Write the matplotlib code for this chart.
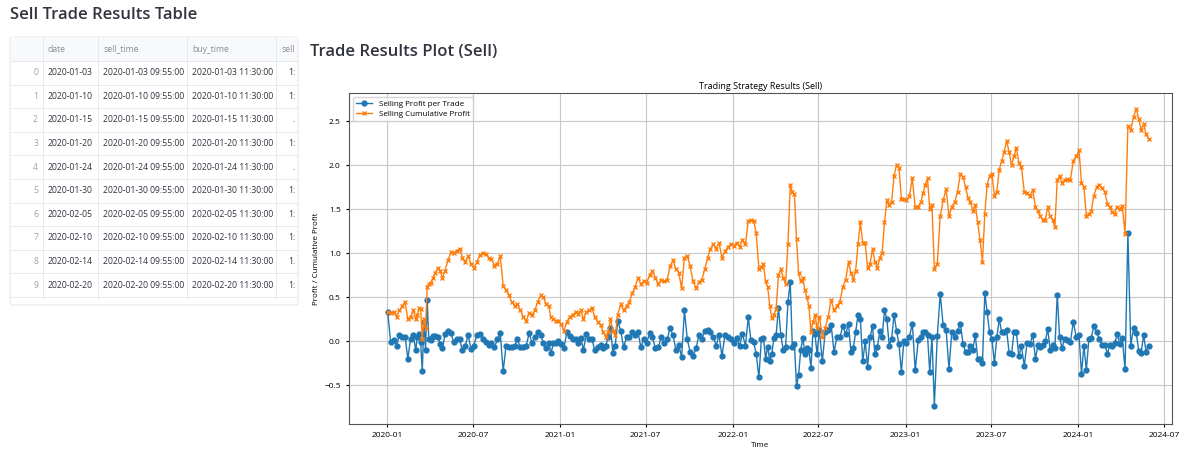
import numpy as np
import pandas as pd
import matplotlib
matplotlib.use("Agg")
import matplotlib.pyplot as plt
import matplotlib.patches as mpatches

# ---- data: cumulative profit per trade, grouped by month ----
months = pd.date_range("2020-01-01", "2024-05-01", freq="MS")
cum_by_month = [
    [0.33, 0.32, 0.33, 0.28, 0.35],
    [0.40, 0.45, 0.25, 0.28, 0.35],
    [0.25, 0.30, 0.38, 0.37, 0.03, 0.25, 0.15, 0.62, 0.65],
    [0.66, 0.72, 0.78, 0.83, 0.80, 0.72],
    [0.80, 0.92, 1.01, 1.00, 1.03],
    [1.05, 0.95, 0.90, 0.97, 0.88],
    [0.83, 0.90, 0.98, 1.00, 0.99],
    [0.95, 0.93, 0.86, 0.88, 0.97],
    [0.63, 0.58, 0.52, 0.45, 0.40],
    [0.42, 0.35, 0.28, 0.23, 0.32],
    [0.30, 0.35, 0.45, 0.52, 0.50],
    [0.42, 0.40, 0.27, 0.25, 0.23, 0.23],
    [0.20, 0.12, 0.22, 0.28, 0.30],
    [0.33, 0.31, 0.35, 0.25, 0.33],
    [0.35, 0.38, 0.28, 0.22, 0.18],
    [0.10, 0.05, 0.10, 0.25, 0.12, 0.07],
    [0.30, 0.42, 0.35, 0.40, 0.45],
    [0.55, 0.62, 0.72, 0.65, 0.68],
    [0.66, 0.75, 0.80, 0.72, 0.65],
    [0.70, 0.68, 0.70, 0.85, 0.92],
    [0.82, 0.78, 0.60, 0.95, 0.97],
    [0.85, 0.68, 0.60, 0.67, 0.70],
    [0.82, 0.95, 1.05, 1.10, 1.05],
    [1.12, 0.95, 1.02, 1.07, 1.10],
    [1.08, 1.12, 1.07, 1.15, 1.10],
    [1.37, 1.38, 1.37, 1.23, 0.82],
    [0.84, 0.88, 0.68, 0.62, 0.40, 0.26, 0.30],
    [0.37, 0.75, 0.82, 0.72, 0.65, 1.10],
    [1.77, 1.70, 1.67, 1.16, 0.78, 0.68, 0.72],
    [0.58, 0.50, 0.40, 0.10, 0.22, 0.30, 0.15],
    [0.28, 0.05, 0.15, 0.28, 0.47],
    [0.35, 0.40, 0.45, 0.62, 0.70],
    [0.90, 0.78, 0.70, 0.80, 1.10, 1.35],
    [1.12, 1.12, 0.83, 0.88, 1.05, 0.90],
    [0.83, 0.95, 1.00, 1.35, 1.60, 1.55],
    [1.58, 1.88, 2.00, 1.97, 1.62, 1.62],
    [1.60, 1.65, 1.85, 1.52, 1.53],
    [1.58, 1.68, 1.78, 1.85, 1.50, 1.55],
    [0.82, 0.88, 1.42, 1.60, 1.73],
    [1.42, 1.53, 1.58, 1.70, 1.90],
    [1.87, 1.75, 1.63, 1.58, 1.48, 1.55],
    [1.35, 1.15, 0.90, 1.45, 1.78, 1.88],
    [1.90, 1.65, 1.70, 1.95, 2.05, 2.15],
    [2.28, 2.15, 2.00, 2.10, 2.20, 2.03],
    [1.98, 1.70, 1.68, 1.65, 1.72],
    [1.52, 1.48, 1.42, 1.38, 1.38, 1.52],
    [1.42, 1.38, 1.30, 1.83, 1.88, 1.80],
    [1.83, 1.84, 1.83, 2.05, 2.10],
    [2.17, 1.80, 1.75, 1.42, 1.44, 1.48],
    [1.65, 1.75, 1.78, 1.74, 1.70],
    [1.56, 1.52, 1.47, 1.45, 1.53, 1.50],
    [1.54, 1.22, 2.45, 2.40, 2.55],
    [2.64, 2.53, 2.40, 2.47, 2.35, 2.30],
]

table_cols = ["date", "sell_time", "buy_time", "sell"]
table_dates = ["2020-01-03", "2020-01-10", "2020-01-15", "2020-01-20", "2020-01-24",
               "2020-01-30", "2020-02-05", "2020-02-10", "2020-02-14", "2020-02-20"]
sell_partial = ["1:", "1:", ".", "1:", ".", "1:", "1:", "1:", "1.", "1:"]

dates, cum = [], []
for m, vals in zip(months, cum_by_month):
    nd = (m + pd.offsets.MonthBegin(1) - m).days
    for i, v in enumerate(vals):
        dates.append(m + pd.Timedelta(days=(i + 0.3) * nd / len(vals)))
        cum.append(v)
cum = np.array(cum)
profit = np.diff(np.concatenate([[0.0], cum]))

plt.rcParams['font.family'] = ['Open Sans', 'DejaVu Sans']
W, H = 1200, 458
fig = plt.figure(figsize=(12, 4.58), dpi=100)

def fx(x): return x / W
def fy(y): return 1 - y / H

# headings
fig.text(fx(10), fy(15), "Sell Trade Results Table", fontsize=12, fontweight='semibold',
         color='#31333f', va='center', ha='left')
fig.text(fx(310), fy(52), "Trade Results Plot (Sell)", fontsize=12, fontweight='semibold',
         color='#31333f', va='center', ha='left')

# table
tx0, tx1, ty0, ty1 = 10, 298, 37, 305
box = mpatches.FancyBboxPatch((fx(tx0), fy(ty1)), fx(tx1 - tx0), (ty1 - ty0) / H,
                              boxstyle="round,pad=0,rounding_size=0.004",
                              transform=fig.transFigure, fc='white', ec='#e6e9ef', lw=0.8)
fig.patches.append(box)
hdr_h = 24
fig.patches.append(mpatches.Rectangle((fx(tx0 + 1), fy(ty0 + hdr_h)), fx(tx1 - tx0 - 2), hdr_h / H,
                                      transform=fig.transFigure, fc='#f8f9fb', ec='none'))
col_x = [10, 43, 98, 187, 276, 298]
row_h = 23.6
clip = mpatches.Rectangle((fx(tx0), fy(ty1 - 6)), fx(tx1 - tx0 - 2), (ty1 - ty0 - 6) / H,
                          transform=fig.transFigure, fc='none', ec='none')
fig.patches.append(clip)
for cx in col_x[1:5]:
    fig.add_artist(plt.Line2D([fx(cx), fx(cx)], [fy(ty0), fy(ty1 - 6)], transform=fig.transFigure,
                              color='#e6e9ef', lw=0.7))
for r in range(11):
    yy = ty0 + hdr_h + r * row_h
    if yy < ty1 - 4:
        fig.add_artist(plt.Line2D([fx(tx0), fx(tx1)], [fy(yy), fy(yy)], transform=fig.transFigure,
                                  color='#e6e9ef', lw=0.7))
for j, c in enumerate(table_cols):
    t = fig.text(fx(col_x[j + 1] + 5), fy(ty0 + hdr_h / 2), c, fontsize=6.2, color='#8a8d97',
                 va='center', ha='left')
    t.set_clip_path(clip)
for r, d in enumerate(table_dates):
    yc = ty0 + hdr_h + (r + 0.5) * row_h
    fig.text(fx(col_x[1] - 5), fy(yc), str(r), fontsize=6.2, color='#a0a3ab', va='center', ha='right')
    fig.text(fx(col_x[1] + 5), fy(yc), d, fontsize=6.2, color='#31333f', va='center', ha='left')
    fig.text(fx(col_x[2] + 5), fy(yc), d + " 09:55:00", fontsize=6.2, color='#31333f', va='center', ha='left')
    fig.text(fx(col_x[3] + 5), fy(yc), d + " 11:30:00", fontsize=6.2, color='#31333f', va='center', ha='left')
    fig.text(fx(col_x[5] - 3), fy(yc), sell_partial[r], fontsize=6.2, color='#31333f', va='center', ha='right')

# plot
ax = fig.add_axes([fx(349), fy(424), fx(1172 - 349), (424 - 93) / H])
ax.plot(dates, profit, marker='o', ms=3.5, lw=1, color='#1f77b4', label='Selling Profit per Trade')
ax.plot(dates, cum, marker='x', ms=3.5, lw=1, color='#ff7f0e', label='Selling Cumulative Profit')
ax.set_ylim(-0.94, 2.82)
ax.set_xlim(pd.Timestamp("2019-10-13"), pd.Timestamp("2024-07-17"))
ax.xaxis.set_major_locator(matplotlib.dates.MonthLocator(bymonth=[1, 7]))
ax.xaxis.set_major_formatter(matplotlib.dates.DateFormatter("%Y-%m"))
ax.grid(True, color='#c8c8c8', lw=0.8)
ax.tick_params(labelsize=6, length=2.5)
ax.set_title("Trading Strategy Results (Sell)", fontsize=6.5, pad=3)
ax.set_xlabel("Time", fontsize=5.8, labelpad=2)
ax.set_ylabel("Profit / Cumulative Profit", fontsize=5.8, labelpad=3)
ax.legend(loc='upper left', fontsize=5.8, handlelength=2, borderpad=0.4, labelspacing=0.3)
for s in ax.spines.values():
    s.set_color('#555555')

fig.savefig("out.png", dpi=100)
